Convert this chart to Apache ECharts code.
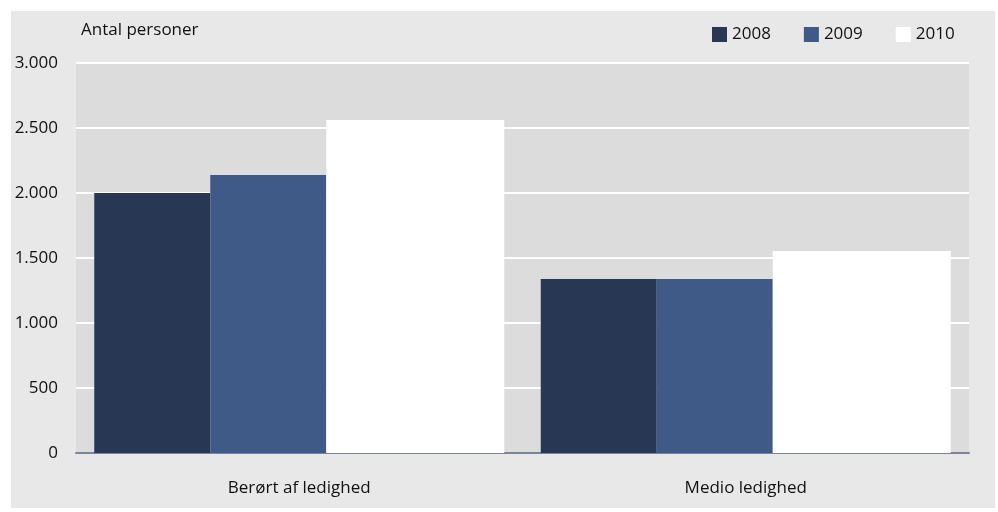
<!DOCTYPE html>
<html><head><meta charset="utf-8">
<script src="https://cdn.jsdelivr.net/npm/echarts@6/dist/echarts.min.js"></script>
<style>html,body{margin:0;padding:0;background:#fff;}#c{width:998px;height:512px;}</style>
</head><body><div id="c"></div>
<script>
const categories = ['Berørt af ledighed', 'Medio ledighed'];
const seriesNames = ['2008', '2009', '2010'];
const v2008 = [2000, 1338];
const v2009 = [2138, 1338];
const v2010 = [2562, 1554];
const yTicks = [0, 500, 1000, 1500, 2000, 2500, 3000];

const colors = ['#283754', '#405a87', '#ffffff'];
const widths = [116, 116, 178];
const font = 'Open Sans';
const fs = 17;
const chart = echarts.init(document.getElementById('c'));
const fmt = v => String(v).replace(/\B(?=(\d{3})+(?!\d))/g, '.');
chart.setOption({
  animation: false,
  backgroundColor: '#ffffff',
  graphic: [{type: 'rect', shape: {x: 11, y: 11, width: 984, height: 497}, style: {fill: '#e8e8e8'}, z: -10}],
  textStyle: {fontFamily: font},
  legend: {
    left: 707, top: 21, itemWidth: 15, itemHeight: 15, itemGap: 33,
    icon: 'rect',
    textStyle: {fontSize: fs, color: '#111', fontFamily: font},
    data: seriesNames
  },
  title: {text: 'Antal personer', left: 76, top: 17, textStyle: {fontSize: fs, fontWeight: 'normal', color: '#111', fontFamily: font}},
  grid: {left: 76, right: 29, top: 63, bottom: 59, show: true, backgroundColor: '#dcdcdc', borderWidth: 0},
  xAxis: {
    type: 'category', data: categories,
    axisLine: {lineStyle: {color: '#7a8597', width: 2}},
    axisTick: {show: false},
    axisLabel: {fontSize: fs, color: '#111', margin: 27, fontFamily: font}
  },
  yAxis: {
    type: 'value', min: yTicks[0], max: yTicks[yTicks.length - 1], interval: 500,
    axisLine: {show: false}, axisTick: {show: false},
    splitLine: {lineStyle: {color: '#ffffff', width: 2}},
    axisLabel: {fontSize: fs, color: '#111', margin: 18, formatter: fmt, fontFamily: font}
  },
  series: seriesNames.map((n, i) => ({
    name: n, type: 'bar', data: [v2008, v2009, v2010][i],
    barWidth: widths[i], barGap: '0%',
    itemStyle: {color: colors[i]}
  }))
});
</script></body></html>
